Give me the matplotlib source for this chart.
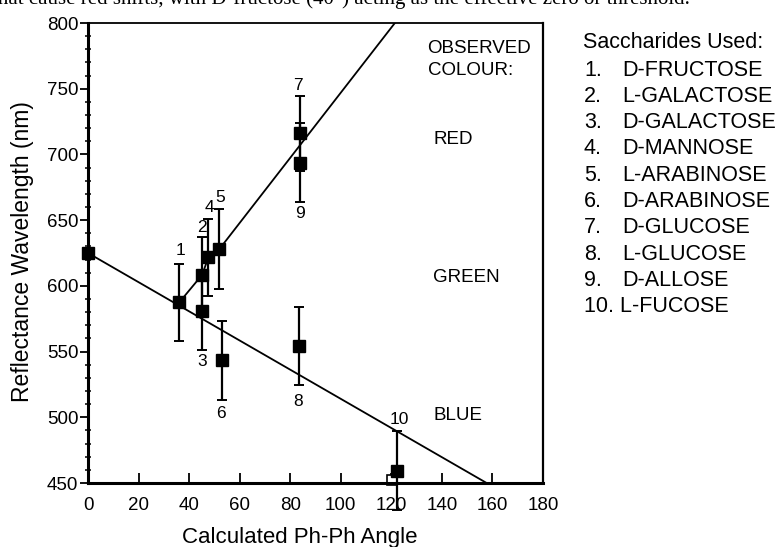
import matplotlib.pyplot as plt
from matplotlib.ticker import MultipleLocator

# saccharide data (angle, reflectance wavelength, error)
labels = ["1", "2", "3", "4", "5", "6", "7", "8", "9", "10"]
angle = [36.1, 45.2, 45.0, 47.6, 51.9, 52.9, 83.9, 83.5, 83.9, 122.1]
wavelength = [587.4, 608.5, 581.0, 621.7, 627.8, 543.5, 716.0, 554.2, 693.7, 459.3]
err = [29.5, 29.0, 30.0, 29.5, 30.5, 30.0, 28.5, 30.0, 30.0, 30.0]
names = ["D-FRUCTOSE", "L-GALACTOSE", "D-GALACTOSE", "D-MANNOSE", "L-ARABINOSE",
         "D-ARABINOSE", "D-GLUCOSE", "L-GLUCOSE", "D-ALLOSE", "L-FUCOSE"]

# reference point at 0 deg
ref_angle = [0]
ref_wl = [625]

# fitted lines
blue_x = [0, 157.7]
blue_y = [625, 450]
red_x = [36.1, 45.2, 47.6, 51.9, 121.4]
red_y = [587.4, 608.5, 621.7, 627.8, 800]

# number label positions
lab_x = [36.4, 45.2, 45.0, 48.0, 52.2, 52.5, 83.2, 83.2, 83.9, 123.2]
lab_y = [627, 644.5, 542.3, 660, 667.3, 503, 752.8, 511.8, 655, 498.4]

plt.rcParams['font.family'] = ['Liberation Sans', 'DejaVu Sans']

fig = plt.figure(figsize=(7.81, 5.47), dpi=100)
ax = fig.add_axes([88/781, 1-483/547, (543-88)/781, (483-23)/547])

ax.plot(blue_x, blue_y, color='black', lw=1.3)
ax.plot(red_x, red_y, color='black', lw=1.3)

ax.plot([120.3], [452], marker='s', ms=7, mfc='white', mec='black', mew=1.2,
        ls='none', clip_on=False, zorder=2)
ax.errorbar(angle, wavelength, yerr=err, fmt='s', color='black', ms=8.5,
            capsize=3.5, elinewidth=1.6, capthick=1.4, clip_on=False, zorder=3)
ax.plot(ref_angle, ref_wl, 's', color='black', ms=8.5, clip_on=False, zorder=4)

for t, x, y in zip(labels, lab_x, lab_y):
    ax.text(x, y, t, ha='center', va='center', fontsize=12.5)

ax.text(134, 780.7, "OBSERVED", fontsize=13.5, va='center')
ax.text(134.5, 764.2, "COLOUR:", fontsize=13.5, va='center')
ax.text(136.5, 711, "RED", fontsize=13.5, va='center')
ax.text(136.5, 606, "GREEN", fontsize=13.5, va='center')
ax.text(136.5, 501.7, "BLUE", fontsize=13.5, va='center')

ax.set_xlim(0, 180)
ax.set_ylim(450, 800)
ax.xaxis.set_major_locator(MultipleLocator(20))
ax.yaxis.set_major_locator(MultipleLocator(50))
ax.yaxis.set_minor_locator(MultipleLocator(10))
ax.tick_params(axis='x', direction='in', length=7, width=1.3, labelsize=13.5, pad=10)
ax.tick_params(axis='y', which='major', direction='out', length=6, width=1.3,
               labelsize=13.5, pad=1)
ax.tick_params(axis='y', which='minor', direction='inout', length=5, width=1.1)
ax.spines['left'].set_linewidth(2.2)
ax.spines['bottom'].set_linewidth(2.2)
ax.spines['top'].set_linewidth(1.3)
ax.spines['right'].set_linewidth(1.6)

fig.text(23/781, 1-252/547, "Reflectance Wavelength (nm)", rotation=90,
         ha='center', va='center', fontsize=16.5)
fig.text(300/781, 1-537/547, "Calculated Ph-Ph Angle", ha='center', va='center',
         fontsize=16)

# legend of saccharides
fig.text(583/781, 1-43/547, "Saccharides Used:", fontsize=15.5, va='center')
for i, n in enumerate(names):
    yy = 1 - (70 + i*26.3)/547
    if i < 9:
        fig.text(584/781, yy, f"{i+1}.", fontsize=15.5, va='center')
        fig.text(622/781, yy, n, fontsize=15.5, va='center')
    else:
        fig.text(584/781, yy, f"{i+1}. {n}", fontsize=15.5, va='center')

# cut-off caption line from the page above
fig.text(-8/781, 1-4/547,
         "that cause red shifts, with D-fructose (40\u00b0) acting as the effective zero or threshold.",
         fontsize=15, family='Liberation Serif', va='baseline')

fig.savefig("out.png", dpi=100)
